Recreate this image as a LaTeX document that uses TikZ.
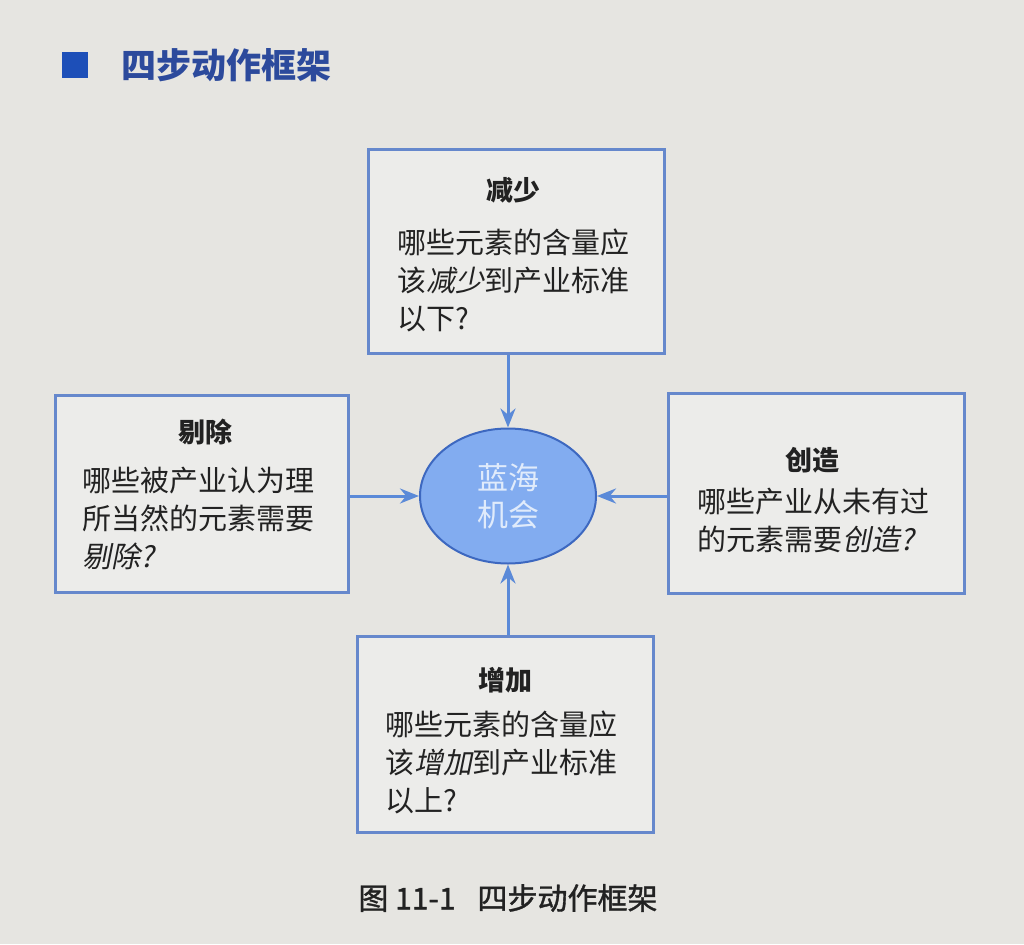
\documentclass[tikz,border=0pt]{standalone}
\usepackage{fontspec}
\setmainfont{Noto Sans CJK SC}
\newfontfamily\cjkit{Noto Sans CJK SC}[FakeSlant=0.2]
\newfontfamily\cjkmed{Noto Sans CJK SC}[FakeBold=1.2]
\usetikzlibrary{arrows.meta,shapes.geometric}
\definecolor{pagebg}{HTML}{E6E5E1}
\definecolor{boxfill}{HTML}{ECECEA}
\definecolor{boxline}{HTML}{6688CC}
\definecolor{arrcol}{HTML}{5B8AD8}
\definecolor{ellfill}{HTML}{82ACF0}
\definecolor{ellline}{HTML}{3D68C0}
\definecolor{elltext}{HTML}{E0EBFB}
\definecolor{headsq}{HTML}{1D4FB8}
\definecolor{headtx}{HTML}{2C4A9C}
\definecolor{bodytx}{HTML}{222222}
\begin{document}
\begin{tikzpicture}[x=1pt,y=-1pt,
  stepbox/.style={draw=boxline,line width=3pt,fill=boxfill,inner sep=0pt},
  ttl/.style={font=\fontsize{27}{32}\selectfont\bfseries,text=bodytx,inner sep=0pt},
  bdy/.style={font=\fontsize{29}{38}\selectfont,text=bodytx,align=left,inner sep=0pt,anchor=west},
  arr/.style={draw=arrcol,line width=3pt,-{Stealth[length=19pt,width=15pt]}}]
\useasboundingbox[fill=pagebg] (0,0) rectangle (1024,944);
% heading
\node[fill=headsq,minimum size=26pt,inner sep=0pt] (sq) at (75,65) {};
\node[anchor=west,inner sep=0pt,text=headtx,font=\fontsize{35}{40}\selectfont\bfseries] (head) at (121,65) {四步动作框架};
% boxes
\node[stepbox,minimum width=296pt,minimum height=203pt] (top) at (516,251.5) {};
\node[stepbox,minimum width=293pt,minimum height=197pt] (lft) at (201.5,493.5) {};
\node[stepbox,minimum width=296pt,minimum height=200pt] (rgt) at (816,493) {};
\node[stepbox,minimum width=296pt,minimum height=196pt] (bot) at (505,734) {};
% centre
\node[ellipse,draw=ellline,line width=2pt,fill=ellfill,minimum width=176pt,minimum height=135pt,inner sep=0pt,text=elltext,align=center,font=\fontsize{31}{37}\selectfont] (c) at (508,496) {蓝海\\机会};
% texts
\node[ttl] (t1) at (513,190) {减少};
\node[bdy] (b1) at (397,280) {哪些元素的含量应\\该{\cjkit 减少}到产业标准\\以下?};
\node[ttl] (t2) at (205,432) {剔除};
\node[bdy] (b2) at (82,518) {哪些被产业认为理\\所当然的元素需要\\{\cjkit 剔除?}};
\node[ttl] (t3) at (812,460) {创造};
\node[bdy] (b3) at (697,520) {哪些产业从未有过\\的元素需要{\cjkit 创造?}};
\node[ttl] (t4) at (505,680) {增加};
\node[bdy] (b4) at (385,762) {哪些元素的含量应\\该{\cjkit 增加}到产业标准\\以上?};
% arrows
\draw[arr] (top.south -| c.north) -- (c.north);
\draw[arr] (bot.north -| c.south) -- (c.south);
\draw[arr] (lft.east |- c.west) -- (c.west);
\draw[arr] (rgt.west |- c.east) -- (c.east);
% caption
\node[inner sep=0pt,text=bodytx,font=\fontsize{30}{34}\selectfont\cjkmed] (cap) at (508,898) {图 11-1\hspace{22pt}四步动作框架};
\end{tikzpicture}
\end{document}
